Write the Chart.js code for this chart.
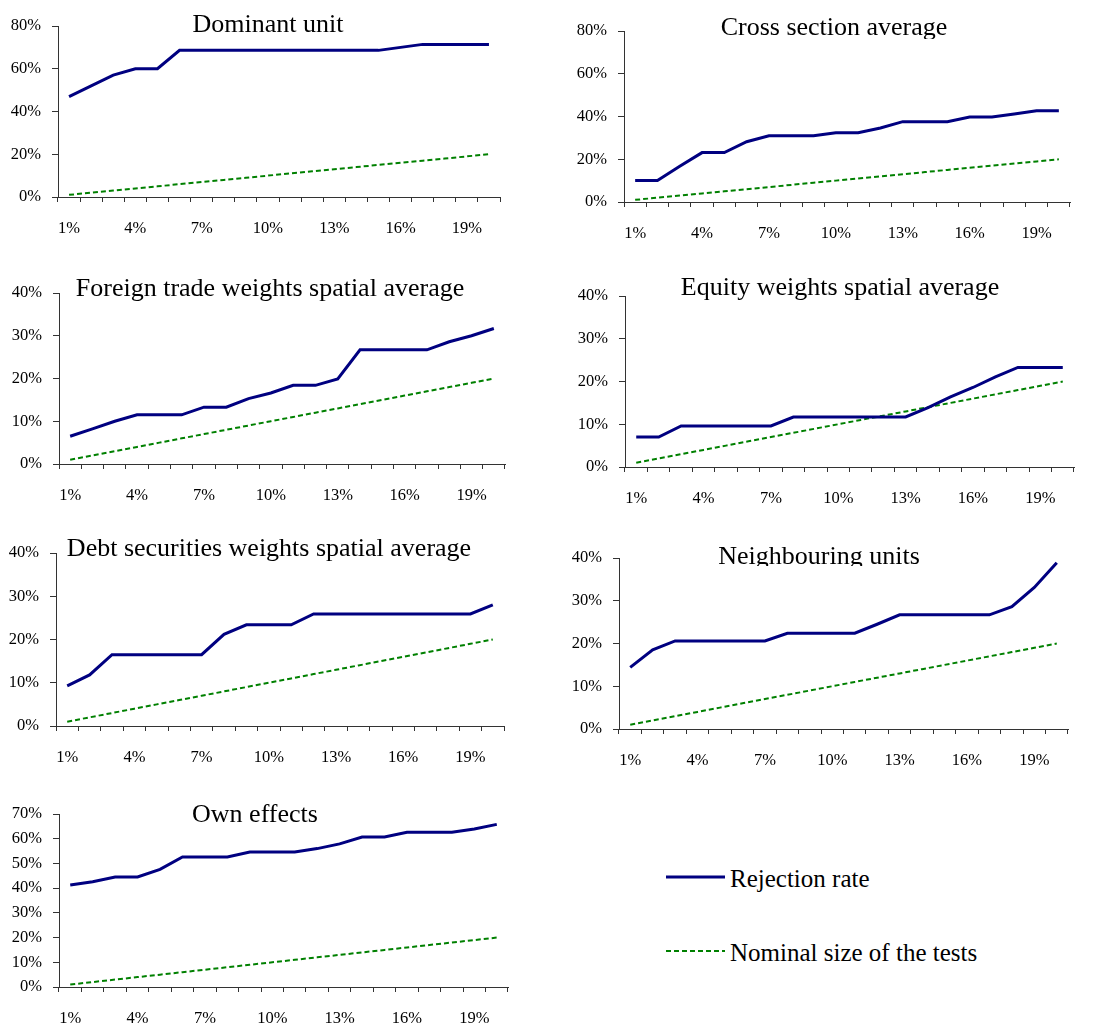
<!DOCTYPE html>
<html>
<head>
<meta charset="utf-8">
<script src="https://cdn.jsdelivr.net/npm/chart.js@4.4.1/dist/chart.umd.min.js"></script>
<style>
  html, body { margin: 0; padding: 0; background: #fff; }
  #page { position: relative; width: 1113px; height: 1028px; overflow: hidden; background: #fff; }
  canvas { position: absolute; }
  .leg { position: absolute; font-family: "Liberation Serif", "Times New Roman", serif; font-size: 25px; line-height: 25px; color: #000; white-space: nowrap; }
  svg.legline { position: absolute; }
</style>
</head>
<body>
<div id="page">
  <svg class="legline" style="left:666px;top:872px" width="60" height="10"><line x1="0" y1="5" x2="59" y2="5" stroke="#000080" stroke-width="3"/></svg>
  <div class="leg" style="left:730px;top:866px">Rejection rate</div>
  <svg class="legline" style="left:666px;top:946px" width="60" height="10"><line x1="0" y1="5" x2="59" y2="5" stroke="#008000" stroke-width="2" stroke-dasharray="5 3"/></svg>
  <div class="leg" style="left:730px;top:940px">Nominal size of the tests</div>
</div>
<script>
// ---- data ----
const categories = ['1%','2%','3%','4%','5%','6%','7%','8%','9%','10%','11%','12%','13%','14%','15%','16%','17%','18%','19%','20%'];
const nominalSize = [1,2,3,4,5,6,7,8,9,10,11,12,13,14,15,16,17,18,19,20];
const dominantUnit = [47.0,52.0,57.0,60.0,60.0,68.6,68.6,68.6,68.6,68.6,68.6,68.6,68.6,68.6,68.6,70.0,71.4,71.4,71.4,71.4];
const crossSectionAverage = [10.1,10.1,16.7,23.1,23.1,28.2,31.0,31.0,31.0,32.4,32.4,34.6,37.6,37.6,37.6,39.8,39.8,41.2,42.7,42.7];
const foreignTradeWeights = [6.5,8.2,10.0,11.5,11.5,11.5,13.3,13.3,15.3,16.6,18.4,18.4,19.9,26.7,26.7,26.7,26.7,28.6,30.0,31.7];
const equityWeights = [7.0,7.0,9.6,9.6,9.6,9.6,9.6,11.7,11.7,11.7,11.7,11.7,11.7,13.9,16.4,18.6,21.1,23.3,23.3,23.3];
const debtSecuritiesWeights = [9.3,11.8,16.5,16.5,16.5,16.5,16.5,21.2,23.4,23.4,23.4,25.9,25.9,25.9,25.9,25.9,25.9,25.9,25.9,28.0];
const neighbouringUnits = [14.4,18.5,20.6,20.6,20.6,20.6,20.6,22.4,22.4,22.4,22.4,24.5,26.7,26.7,26.7,26.7,26.7,28.6,33.1,38.9];
const ownEffects = [41.3,42.6,44.5,44.5,47.6,52.6,52.6,52.6,54.6,54.6,54.6,56.0,57.9,60.7,60.7,62.6,62.6,62.6,63.9,65.8];
const titles = ['Dominant unit','Cross section average','Foreign trade weights spatial average','Equity weights spatial average','Debt securities weights spatial average','Neighbouring units','Own effects'];
const seriesNames = ['Rejection rate','Nominal size of the tests'];

// ---- layout (page coordinates) ----
const panels = [
  {title: titles[0], data: dominantUnit, max: 80, step: 20, x0: 58, x1: 500, top: 26, bottom: 197, tcx: 268, tby: 32, clip: null},
  {title: titles[1], data: crossSectionAverage, max: 80, step: 20, x0: 624, x1: 1070, top: 31, bottom: 202, tcx: 834, tby: 35, clip: 39},
  {title: titles[2], data: foreignTradeWeights, max: 40, step: 10, x0: 59, x1: 505, top: 293, bottom: 464, tcx: 270, tby: 296, clip: null},
  {title: titles[3], data: equityWeights, max: 40, step: 10, x0: 625, x1: 1074, top: 296, bottom: 467, tcx: 840, tby: 295, clip: null},
  {title: titles[4], data: debtSecuritiesWeights, max: 40, step: 10, x0: 56, x1: 504, top: 553, bottom: 726, tcx: 269, tby: 556, clip: null},
  {title: titles[5], data: neighbouringUnits, max: 40, step: 10, x0: 619, x1: 1068, top: 558, bottom: 729, tcx: 819, tby: 564, clip: 566},
  {title: titles[6], data: ownEffects, max: 70, step: 10, x0: 59, x1: 508, top: 814, bottom: 987, tcx: 255, tby: 822, clip: null}
];

const FONT = '"Liberation Serif", "Times New Roman", serif';
Chart.defaults.font.family = FONT;
Chart.defaults.color = '#000';

const YW = 50, XH = 45;
const page = document.getElementById('page');

panels.forEach((p, i) => {
  const L = p.x0 - 58;
  const T = Math.max(0, p.top - 30);
  const W = p.x1 - L + 12;
  const H = p.bottom - T + XH;
  const cv = document.createElement('canvas');
  cv.width = W; cv.height = H;
  cv.style.left = L + 'px'; cv.style.top = T + 'px';
  cv.style.width = W + 'px'; cv.style.height = H + 'px';
  page.appendChild(cv);

  const titlePlugin = {
    id: 'panelTitle' + i,
    afterDraw(chart) {
      const ctx = chart.ctx;
      ctx.save();
      if (p.clip !== null) {
        ctx.beginPath();
        ctx.rect(0, 0, W, p.clip - T);
        ctx.clip();
      }
      ctx.font = '26px ' + FONT;
      ctx.fillStyle = '#000';
      ctx.textAlign = 'center';
      ctx.textBaseline = 'alphabetic';
      ctx.fillText(p.title, p.tcx - L, p.tby - T);
      ctx.restore();
    }
  };

  new Chart(cv, {
    type: 'line',
    data: {
      labels: categories,
      datasets: [
        {label: seriesNames[0], data: p.data, borderColor: '#000080', borderWidth: 3, pointRadius: 0, tension: 0, fill: false},
        {label: seriesNames[1], data: nominalSize, borderColor: '#008000', borderWidth: 2, borderDash: [5, 3], pointRadius: 0, tension: 0, fill: false}
      ]
    },
    options: {
      responsive: false,
      animation: false,
      devicePixelRatio: 1,
      layout: {padding: {left: 8, top: p.top - T, right: 12, bottom: 0}},
      plugins: {legend: {display: false}, tooltip: {enabled: false}, title: {display: false}},
      scales: {
        x: {
          type: 'category',
          offset: true,
          grid: {display: true, drawOnChartArea: false, drawTicks: true, tickLength: 5, color: '#333', offset: true},
          border: {display: true, color: '#333', width: 1},
          ticks: {
            autoSkip: false, maxRotation: 0, minRotation: 0, padding: 17,
            font: {size: 16.5, family: FONT}, color: '#000',
            callback: function(v, idx) { return idx % 3 === 0 ? categories[idx] : ''; }
          },
          afterFit: function(s) { s.height = XH; }
        },
        y: {
          min: 0, max: p.max,
          grid: {display: true, drawOnChartArea: false, drawTicks: true, tickLength: 6, color: '#333'},
          border: {display: true, color: '#333', width: 1},
          ticks: {
            stepSize: p.step, padding: 11,
            font: {size: 16.5, family: FONT}, color: '#000',
            callback: function(v) { return v + '%'; }
          },
          afterFit: function(s) { s.width = YW; }
        }
      }
    },
    plugins: [titlePlugin]
  });
});
</script>
</body>
</html>
